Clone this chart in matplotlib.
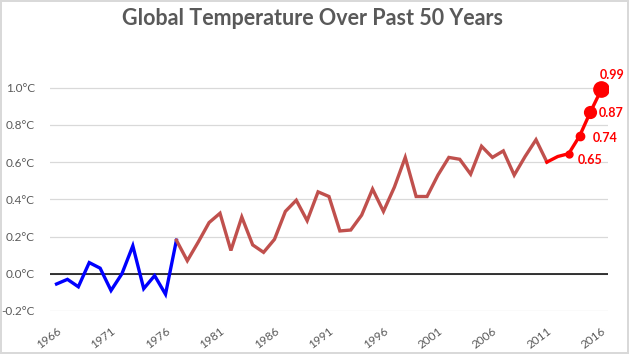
import matplotlib
matplotlib.use("Agg")
import matplotlib.pyplot as plt

plt.rcParams['font.family'] = ['Lato', 'DejaVu Sans']

# data (anomaly in deg C)

blue_years = list(range(1966, 1978))
blue_vals = [-0.055, -0.03, -0.07, 0.06, 0.03, -0.09, 0.0, 0.15, -0.08, -0.01, -0.11, 0.18]

mid_years = list(range(1977, 2012))
mid_vals = [0.18, 0.07, 0.17, 0.275, 0.325, 0.125, 0.305, 0.155, 0.115, 0.185,
            0.335, 0.395, 0.285, 0.44, 0.415, 0.23, 0.235, 0.315, 0.455, 0.335,
            0.465, 0.625, 0.415, 0.415, 0.53, 0.625, 0.615, 0.535, 0.685, 0.625,
            0.66, 0.53, 0.63, 0.72, 0.60]

recent_years = list(range(2011, 2017))
recent_vals = [0.60, 0.63, 0.645, 0.74, 0.87, 0.99]

label_years = [2013, 2014, 2015, 2016]
label_vals = [0.645, 0.74, 0.87, 0.99]
label_texts = ["0.65", "0.74", "0.87", "0.99"]
marker_sizes = [5, 6, 8.5, 11]
label_offsets = [(9, -6), (13, -2), (8, -1), (-2, 14)]

xtick_years = list(range(1966, 2017, 5))
yticks = [-0.2, 0.0, 0.2, 0.4, 0.6, 0.8, 1.0]

GREY = "#595959"

fig = plt.figure(figsize=(6.29, 3.54), dpi=100)
fig.patch.set_edgecolor("#D9D9D9")
fig.patch.set_linewidth(1.5)
ax = fig.add_axes([0.0795, 0.1215, 0.887, 0.6836])

ax.plot(blue_years, blue_vals, color="#0000FF", lw=2.4, solid_joinstyle="miter", zorder=3)
ax.plot(mid_years, mid_vals, color="#C0504D", lw=2.4, solid_joinstyle="miter", zorder=3)
ax.plot(recent_years, recent_vals, color="#FF0000", lw=2.4, zorder=4)

for yr, v, txt, ms, off in zip(label_years, label_vals, label_texts, marker_sizes, label_offsets):
    ax.plot([yr], [v], "o", color="#FF0000", ms=ms, zorder=5)
    ax.annotate(txt, (yr, v), xytext=off, textcoords="offset pixels",
                ha="left", va="center", color="#FF0000", fontsize=9, fontweight="bold")

ax.axhline(0, color="black", lw=1.1, zorder=2)

ax.set_xlim(1965.4, 2016.6)
ax.set_ylim(-0.2, 1.1)
ax.set_yticks(yticks)
ax.set_yticklabels(["{:.1f}°C".format(t) for t in yticks])
ax.set_xticks(xtick_years)
ax.set_xticklabels([str(y) for y in xtick_years], rotation=37, ha="right", va="top",
                   rotation_mode="anchor")
ax.tick_params(axis="both", length=0, colors=GREY, labelsize=8.5)
ax.tick_params(axis="x", pad=10)
ax.tick_params(axis="y", pad=11)
ax.grid(axis="y", color="#D9D9D9", lw=0.9)
ax.set_axisbelow(True)
for s in ax.spines.values():
    s.set_visible(False)

fig.text(0.497, 0.948, "Global Temperature Over Past 50 Years", ha="center", va="center",
         fontsize=15.5, fontweight="bold", color=GREY)

fig.savefig("out.png", dpi=100, facecolor="white", edgecolor="#D9D9D9")
